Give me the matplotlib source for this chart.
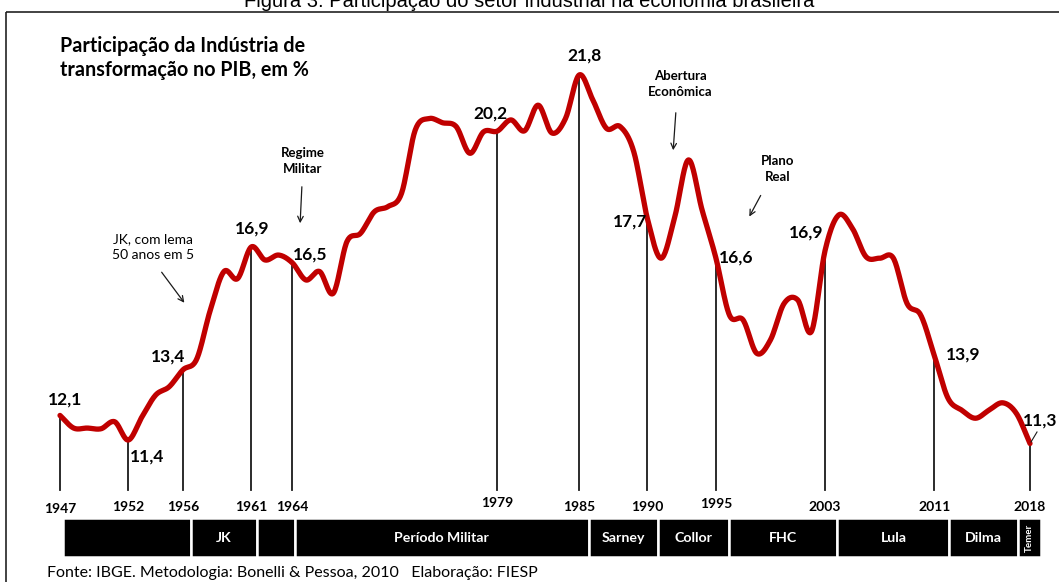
import matplotlib
matplotlib.use("Agg")
import matplotlib.pyplot as plt
from matplotlib.patches import Rectangle
import numpy as np

plt.rcParams['font.family'] = ['Lato', 'DejaVu Sans']

# Participação da indústria de transformação no PIB (%)
years = list(range(1947, 2019))
share = [12.1, 11.74, 11.74, 11.72, 11.92, 11.4, 12.06, 12.68, 12.92, 13.4,
         13.7, 15.1, 16.2, 16.0, 16.9, 16.53, 16.67, 16.45, 15.96, 16.2,
         15.58, 17.05, 17.29, 17.9, 18.05, 18.43, 20.23, 20.56, 20.44, 20.33,
         19.57, 20.18, 20.2, 20.52, 20.21, 20.94, 20.15, 20.56, 21.8, 21.09,
         20.28, 20.33, 19.61, 17.7, 16.58, 17.76, 19.38, 17.95, 16.6, 14.96,
         14.82, 13.87, 14.25, 15.29, 15.39, 14.49, 16.8, 17.81, 17.43, 16.62,
         16.58, 16.58, 15.29, 14.96, 13.8, 12.59, 12.25, 12.02, 12.25, 12.46,
         12.16, 11.3]

marked_years = [1947, 1952, 1956, 1961, 1964, 1979, 1985, 1990, 1995, 2003, 2011, 2018]
marked_labels = ["12,1", "11,4", "13,4", "16,9", "16,5", "20,2", "21,8",
                 "17,7", "16,6", "16,9", "13,9", "11,3"]

periods = ["", "JK", "", "Período Militar", "Sarney", "Collor", "FHC", "Lula", "Dilma", "Temer"]
period_edges = [1947.2, 1956.6, 1961.4, 1964.2, 1985.7, 1990.8, 1996.0, 2003.9, 2012.1, 2017.1, 2018.8]


def catmull_rom(x, y, n=20):
    x = np.asarray(x, float)
    y = np.asarray(y, float)
    px = np.concatenate([[2 * x[0] - x[1]], x, [2 * x[-1] - x[-2]]])
    py = np.concatenate([[2 * y[0] - y[1]], y, [2 * y[-1] - y[-2]]])
    t = np.linspace(0, 1, n, endpoint=False)[:, None]
    out_x, out_y = [], []
    for i in range(1, len(px) - 2):
        for arr, out in ((px, out_x), (py, out_y)):
            p0, p1, p2, p3 = arr[i - 1], arr[i], arr[i + 1], arr[i + 2]
            seg = 0.5 * ((2 * p1) + (-p0 + p2) * t + (2 * p0 - 5 * p1 + 4 * p2 - p3) * t ** 2
                         + (-p0 + 3 * p1 - 3 * p2 + p3) * t ** 3)
            out.append(seg.ravel())
    out_x.append([x[-1]])
    out_y.append([y[-1]])
    return np.concatenate(out_x), np.concatenate(out_y)


W, H = 1059, 582
fig = plt.figure(figsize=(W / 100, H / 100), dpi=100)

# data axes: 1947 -> px 60, 2018 -> px 1030 ; 11.4 -> px 440, 21.8 -> px 75
PX_YEAR = (1030 - 60) / 71
PX_VAL = (440 - 75) / 10.4
ax = fig.add_axes([0, 0, 1, 1])
ax.set_xlim(1947 - 60 / PX_YEAR, 1947 + (W - 60) / PX_YEAR)
ax.set_ylim(11.4 - (H - 440) / PX_VAL, 11.4 + 440 / PX_VAL)
ax.axis('off')

# overlay in pixel coordinates for the annotations
ov = fig.add_axes([0, 0, 1, 1])
ov.set_xlim(0, W)
ov.set_ylim(H, 0)
ov.axis('off')
ov.patch.set_alpha(0)


def ypx(v):
    return 11.4 - (v - 440) / PX_VAL


# frame
ov.add_patch(Rectangle((6, 12), W + 20, H, fill=False, edgecolor='#222222', lw=1.2))
fig.text(0.5, 0.997, "Figura 3: Participação do setor industrial na economia brasileira",
         ha='center', va='center', fontsize=14.5, family=['Liberation Sans', 'DejaVu Sans'])

# vertical marker lines
val_at = dict(zip(years, share))
for yr in marked_years:
    ax.plot([yr, yr], [val_at[yr], ypx(490)], color='#1a1a1a', lw=1.3, zorder=2)

sx, sy = catmull_rom(years, share)
ax.plot(sx, sy, color='#C00000', lw=3.8, solid_capstyle='round', zorder=3)

# year labels
year_y = {1979: 503, 1995: 504, 1947: 509}
for yr in marked_years:
    ax.text(yr, ypx(year_y.get(yr, 507)), str(yr), ha='center', va='center',
            fontsize=10, fontweight='bold')

# value labels (pixel positions)
label_pos = [(65, 400, 'center'), (130, 457, 'left'), (168, 357, 'center'),
             (252, 229, 'center'), (293, 255, 'left'), (490, 114, 'center'),
             (585, 56, 'center'), (647, 222, 'right'), (719, 258, 'left'),
             (823, 233, 'right'), (946, 355, 'left'), (1040, 421, 'center')]
for lab, (x, y, ha) in zip(marked_labels, label_pos):
    ov.text(x, y, lab, ha=ha, va='center', fontsize=12.5, fontweight='bold')
ov.plot([1031, 1037], [442, 432], color='#1a1a1a', lw=0.8)

# period bar
bar_top, bar_bot = ypx(518), ypx(557)
for name, a, b in zip(periods, period_edges[:-1], period_edges[1:]):
    ax.add_patch(Rectangle((a, bar_bot), b - a, bar_top - bar_bot, facecolor='black',
                           edgecolor='white', lw=1.8, zorder=2))
    if name == "Temer":
        ax.text((a + b) / 2, (bar_top + bar_bot) / 2, name, color='white', rotation=90,
                ha='center', va='center', fontsize=7, fontweight='bold', zorder=3)
    elif name:
        ax.text((a + b) / 2, (bar_top + bar_bot) / 2, name, color='white',
                ha='center', va='center', fontsize=10.2, fontweight='bold', zorder=3)

ov.text(47, 573, "Fonte: IBGE. Metodologia: Bonelli & Pessoa, 2010   Elaboração: FIESP",
        ha='left', va='center', fontsize=11.5)

# chart title
ov.text(60, 58, "Participação da Indústria de\ntransformação no PIB, em %", ha='left',
        va='center', fontsize=14.2, fontweight='bold', linespacing=1.3)

# annotations
arrow = dict(arrowstyle='->', color='#1a1a1a', lw=0.9)
ov.text(153, 247, "JK, com lema\n50 anos em 5", ha='center', va='center', fontsize=10,
        linespacing=1.45)
ov.annotate("", xy=(186, 305), xytext=(160, 270), arrowprops=arrow)
ov.text(303, 161, "Regime\nMilitar", ha='center', va='center', fontsize=9.5,
        fontweight='bold', linespacing=1.4)
ov.annotate("", xy=(300, 226), xytext=(302, 184), arrowprops=arrow)
ov.text(680, 84, "Abertura\nEconômica", ha='center', va='center', fontsize=9.5,
        fontweight='bold', linespacing=1.4)
ov.annotate("", xy=(673, 153), xytext=(676, 110), arrowprops=arrow)
ov.text(778, 169, "Plano\nReal", ha='center', va='center', fontsize=9.5,
        fontweight='bold', linespacing=1.4)
ov.annotate("", xy=(748, 219), xytext=(762, 193), arrowprops=arrow)

fig.savefig("out.png", dpi=100)
